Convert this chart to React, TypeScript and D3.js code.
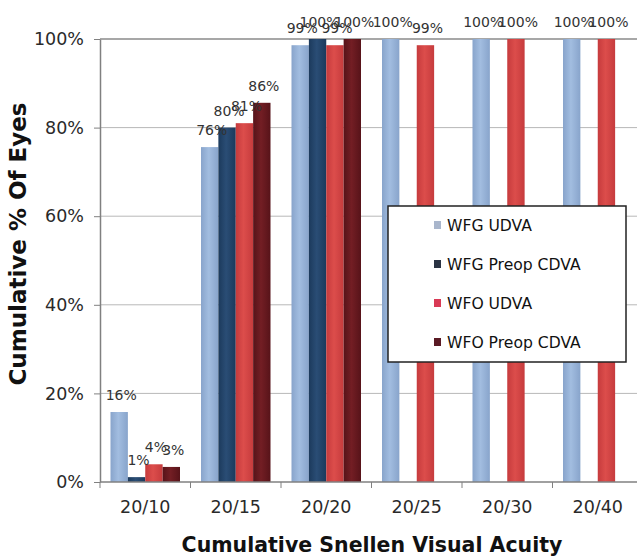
import React, { useEffect, useRef } from "react";
import * as d3 from "d3";

// Cumulative Snellen visual acuity, grouped bars

const categories = ["20/10", "20/15", "20/20", "20/25", "20/30", "20/40"];
const seriesNames = ["WFG UDVA", "WFG Preop CDVA", "WFO UDVA", "WFO Preop CDVA"];
const wfgUdva = [15.8, 75.6, 98.6, 100, 100, 100];
const wfgPreopCdva = [1.1, 80, 100, null, null, null];
const wfoUdva = [4, 81, 98.6, 98.6, 100, 100];
const wfoPreopCdva = [3.4, 85.6, 100, null, null, null];
const yTicks = [0, 20, 40, 60, 80, 100];

const seriesColors = [
  ["#88a4cb", "#a2bde0"],
  ["#1c3a5c", "#2a4d75"],
  ["#c63b3d", "#dc4d4b"],
  ["#571319", "#731e24"],
];
const legendColors = ["#a9b6cc", "#2b3444", "#d93a55", "#5a1a24"];

export default function App() {
  const ref = useRef<SVGSVGElement>(null);

  useEffect(() => {
    const W = 637, H = 559;
    const margin = { top: 39, left: 100, bottom: 77 };
    const svg = d3.select(ref.current);
    svg.selectAll("*").remove();

    const values = [wfgUdva, wfgPreopCdva, wfoUdva, wfoPreopCdva];

    const x = d3.scaleBand().domain(categories).range([margin.left, margin.left + 90.5 * 6]);
    const x1 = d3.scaleBand().domain(seriesNames).range([10.5, x.bandwidth() - 10.5]);
    const y = d3.scaleLinear().domain([0, 100]).range([H - margin.bottom, margin.top]);

    // gradients for bars
    const defs = svg.append("defs");
    seriesColors.forEach((c, i) => {
      const g = defs.append("linearGradient").attr("id", "grad" + i)
        .attr("x1", "0").attr("x2", "1").attr("y1", "0").attr("y2", "0");
      g.append("stop").attr("offset", "0%").attr("stop-color", c[0]);
      g.append("stop").attr("offset", "45%").attr("stop-color", c[1]);
      g.append("stop").attr("offset", "100%").attr("stop-color", c[0]);
    });

    // gridlines
    svg.append("g").selectAll("line").data(yTicks.filter(t => t > 0)).join("line")
      .attr("x1", margin.left).attr("x2", W)
      .attr("y1", d => y(d)).attr("y2", d => y(d))
      .attr("stroke", d => (d === 100 ? "#8a8a8a" : "#b8b8b8"))
      .attr("stroke-width", d => (d === 100 ? 1.5 : 1));

    // bars
    const groups = svg.append("g").selectAll("g").data(categories).join("g")
      .attr("transform", d => `translate(${x(d)},0)`);

    groups.selectAll("rect")
      .data((c, ci) => seriesNames.map((s, si) => ({ s, si, v: values[si][ci] })).filter(d => d.v != null))
      .join("rect")
      .attr("x", d => x1(d.s)!)
      .attr("y", d => y(d.v as number))
      .attr("width", x1.bandwidth())
      .attr("height", d => y(0) - y(d.v as number))
      .attr("fill", d => `url(#grad${d.si})`);

    // data labels
    groups.selectAll("text")
      .data((c, ci) => seriesNames.map((s, si) => ({ s, si, v: values[si][ci] })).filter(d => d.v != null))
      .join("text")
      .attr("x", d => x1(d.s)! + x1.bandwidth() / 2 + 2)
      .attr("y", d => y(d.v as number) - 12)
      .attr("text-anchor", "middle")
      .attr("font-family", "DejaVu Sans")
      .attr("font-size", 14)
      .attr("fill", "#333")
      .text(d => Math.round(d.v as number) + "%");

    // y axis
    const yAxis = svg.append("g").attr("transform", `translate(${margin.left},0)`)
      .call(d3.axisLeft(y).tickValues(yTicks).tickSize(6).tickSizeOuter(0).tickPadding(10).tickFormat(d => d + "%"));
    yAxis.select(".domain").attr("stroke", "#808080").attr("stroke-width", 1.5);
    yAxis.selectAll(".tick line").attr("stroke", "#808080");
    yAxis.selectAll(".tick text").attr("font-family", "DejaVu Sans").attr("font-size", 17.5).attr("fill", "#2a2a2a");

    // x axis
    const xAxis = svg.append("g").attr("transform", `translate(0,${y(0)})`)
      .call(d3.axisBottom(x).tickSize(0).tickPadding(19));
    xAxis.select(".domain").remove();
    xAxis.append("line").attr("x1", margin.left).attr("x2", W).attr("stroke", "#808080").attr("stroke-width", 1.5);
    xAxis.selectAll(".tickmark").data(d3.range(categories.length + 1)).join("line")
      .attr("x1", i => margin.left + i * x.step()).attr("x2", i => margin.left + i * x.step())
      .attr("y1", 0).attr("y2", 6).attr("stroke", "#808080");
    xAxis.selectAll(".tick text").attr("font-family", "DejaVu Sans").attr("font-size", 17.5).attr("fill", "#2a2a2a");

    // axis titles
    svg.append("text")
      .attr("x", 372).attr("y", 552)
      .attr("text-anchor", "middle")
      .attr("font-family", "DejaVu Sans").attr("font-weight", "bold").attr("font-size", 20.5)
      .attr("fill", "#111")
      .text("Cumulative Snellen Visual Acuity");
    svg.append("text")
      .attr("transform", "rotate(-90)")
      .attr("x", -244).attr("y", 26)
      .attr("text-anchor", "middle")
      .attr("font-family", "DejaVu Sans").attr("font-weight", "bold").attr("font-size", 23)
      .attr("fill", "#111")
      .text("Cumulative % Of Eyes");

    // legend
    const lg = svg.append("g").attr("transform", "translate(388,206)");
    lg.append("rect").attr("width", 238).attr("height", 156)
      .attr("fill", "#fff").attr("stroke", "#222").attr("stroke-width", 1.5);
    const items = lg.selectAll("g").data(seriesNames).join("g")
      .attr("transform", (d, i) => `translate(46,${19 + i * 39})`);
    items.append("rect").attr("x", 0).attr("y", -4).attr("width", 7).attr("height", 8)
      .attr("fill", (d, i) => legendColors[i]);
    items.append("text").attr("x", 13).attr("y", 6)
      .attr("font-family", "DejaVu Sans").attr("font-size", 15.6).attr("fill", "#111")
      .text(d => d);
  }, []);

  return (
    <svg ref={ref} width={637} height={559}
      style={{ position: "absolute", left: 0, top: 0, background: "#fff" }} />
  );
}
